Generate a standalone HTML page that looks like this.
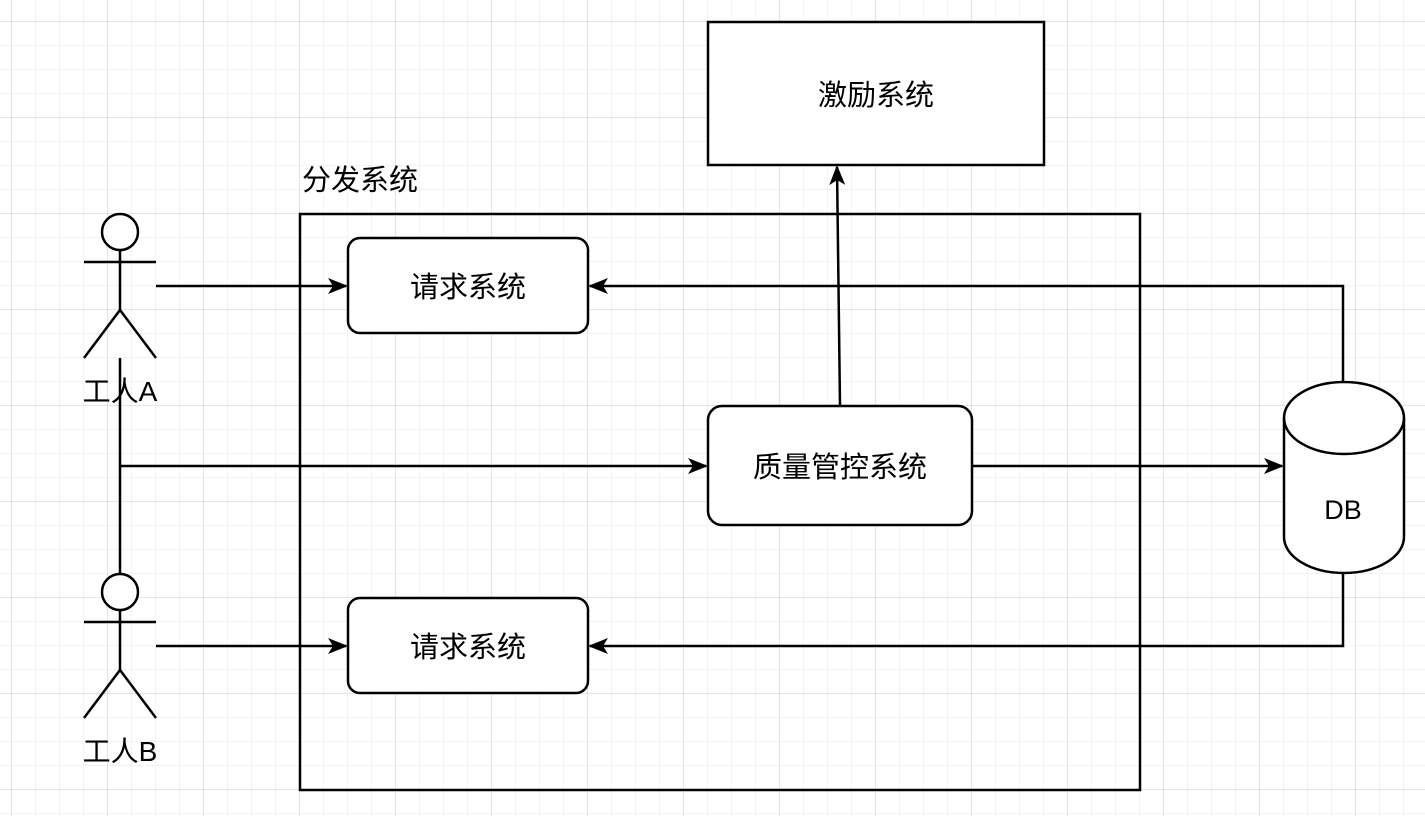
<!DOCTYPE html>
<html><head><meta charset="utf-8"><style>
html,body{margin:0;padding:0;background:#fff}
svg text{font-family:"Liberation Sans","Noto Sans CJK SC",sans-serif;fill:#000}
</style></head><body>
<svg width="1425" height="816" xmlns="http://www.w3.org/2000/svg">
<defs>
<pattern id="minor" x="11" y="21" width="24" height="24" patternUnits="userSpaceOnUse">
<path d="M0 0V24M0 0H24" stroke="#efefef" stroke-width="1.5" fill="none"/></pattern>
<pattern id="major" x="11" y="21" width="96" height="96" patternUnits="userSpaceOnUse">
<path d="M0 0V96M0 0H96" stroke="#d0d0d0" stroke-width="1" fill="none"/></pattern>
<marker id="a" markerWidth="22" markerHeight="18" refX="18" refY="9" orient="auto" markerUnits="userSpaceOnUse">
<path d="M0 1L20 9L0 17L5 9Z" fill="#000"/></marker>
</defs>
<rect width="1425" height="816" fill="#fff"/>
<rect width="1425" height="816" fill="url(#minor)"/>
<rect width="1425" height="816" fill="url(#major)"/>
<g stroke="#000" stroke-width="2.5" fill="none">
<rect x="300" y="214" width="840" height="576"/>
<rect x="708" y="22" width="336" height="143" fill="#fff"/>
<rect x="348" y="238" width="240" height="95" rx="12" fill="#fff"/>
<rect x="348" y="598" width="240" height="95" rx="12" fill="#fff"/>
<rect x="708" y="406" width="264" height="119" rx="14" fill="#fff"/>
<circle cx="120" cy="232" r="18" fill="#fff"/>
<path d="M120 250V310M84 262H156M120 310L84 358M120 310L156 358"/>
<circle cx="120" cy="592" r="18" fill="#fff"/>
<path d="M120 610V670M84 622H156M120 670L84 718M120 670L156 718"/>
<path d="M120 358V574"/>
<path d="M156 286H346" marker-end="url(#a)"/>
<path d="M156 646H346" marker-end="url(#a)"/>
<path d="M120 466H706" marker-end="url(#a)"/>
<path d="M972 466H1282" marker-end="url(#a)"/>
<path d="M840 406L837 167" marker-end="url(#a)"/>
<path d="M1343 382V286H590" marker-end="url(#a)"/>
<path d="M1343 573V646H590" marker-end="url(#a)"/>
<path d="M1284 418V537A60 36 0 0 0 1404 537V418A60 36 0 0 0 1284 418Z" fill="#fff"/>
<path d="M1284 418A60 36 0 0 0 1404 418"/>
</g>
<g font-size="29" text-anchor="middle">
<text x="876" y="105">激励系统</text>
<text x="468" y="297">请求系统</text>
<text x="468" y="657">请求系统</text>
<text x="840" y="477">质量管控系统</text>
<text x="1343" y="519" font-size="27">DB</text>
<text x="120" y="401" font-size="28">工人A</text>
<text x="120" y="761" font-size="28">工人B</text>
<text x="360" y="190">分发系统</text>
</g>
</svg>
</body></html>
